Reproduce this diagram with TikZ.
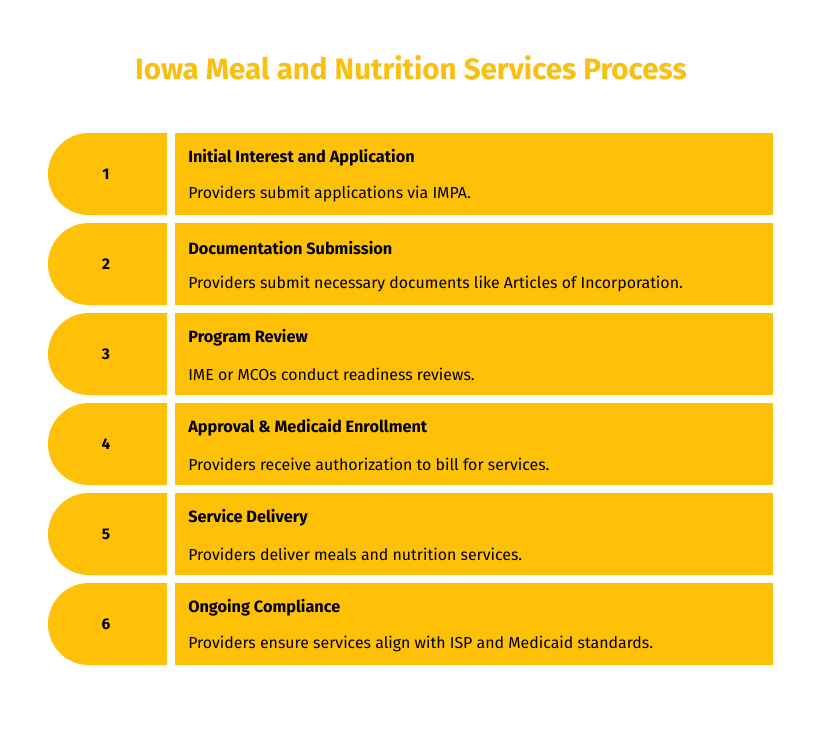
\documentclass[tikz,border=0pt]{standalone}
\usepackage{fontspec}
\setmainfont{Fira Sans}
\usetikzlibrary{calc}
\definecolor{amber}{HTML}{FFC107}
\definecolor{titlegold}{HTML}{FBBF0F}
\tikzset{
  steptitle/.style={font=\fontsize{21}{24}\selectfont\bfseries, text=titlegold},
  stepnum/.style={font=\fontsize{11}{13}\selectfont\bfseries},
  stephead/.style={font=\fontsize{11.6}{14}\selectfont\bfseries, anchor=west, inner sep=0pt},
  steptext/.style={font=\fontsize{11.3}{14}\selectfont, anchor=west, inner sep=0pt},
}
\begin{document}
\begin{tikzpicture}[x=0.025cm, y=-0.025cm]
		%%%%% START %%%%%
		\useasboundingbox[fill=white] (0, 0) rectangle (822, 738);
		
		\node[steptitle] (title) at (411, 68) {Iowa Meal and Nutrition Services Process};
		
		\foreach \n/\head/\desc [count=\i from 0] in {
			1/Initial Interest and Application/Providers submit applications via IMPA.,
			2/Documentation Submission/Providers submit necessary documents like Articles of Incorporation.,
			3/Program Review/IME or MCOs conduct readiness reviews.,
			4/Approval \& Medicaid Enrollment/Providers receive authorization to bill for services.,
			5/Service Delivery/Providers deliver meals and nutrition services.,
			6/Ongoing Compliance/Providers ensure services align with ISP and Medicaid standards.}
		{
			\pgfmathsetmacro{\top}{133 + 90*\i}
			\pgfmathsetmacro{\bot}{\top + 82}
			\pgfmathsetmacro{\mid}{\top + 41}
			% tab
			\fill[amber] (167, \top) -- (89, \top) arc (-90:-270:41) -- (167, \bot) -- cycle;
			% box
			\fill[amber] (175, \top) rectangle (773, \bot);
			
			\node[stepnum] (num\n) at (106, \mid) {\n};
			\node[stephead] (head\n) at (188, \top + 25) {\head};
			\node[steptext] (desc\n) at (188, \top + 61) {\desc};
		}
		
		%%%%% END %%%%%
\end{tikzpicture}
\end{document}
